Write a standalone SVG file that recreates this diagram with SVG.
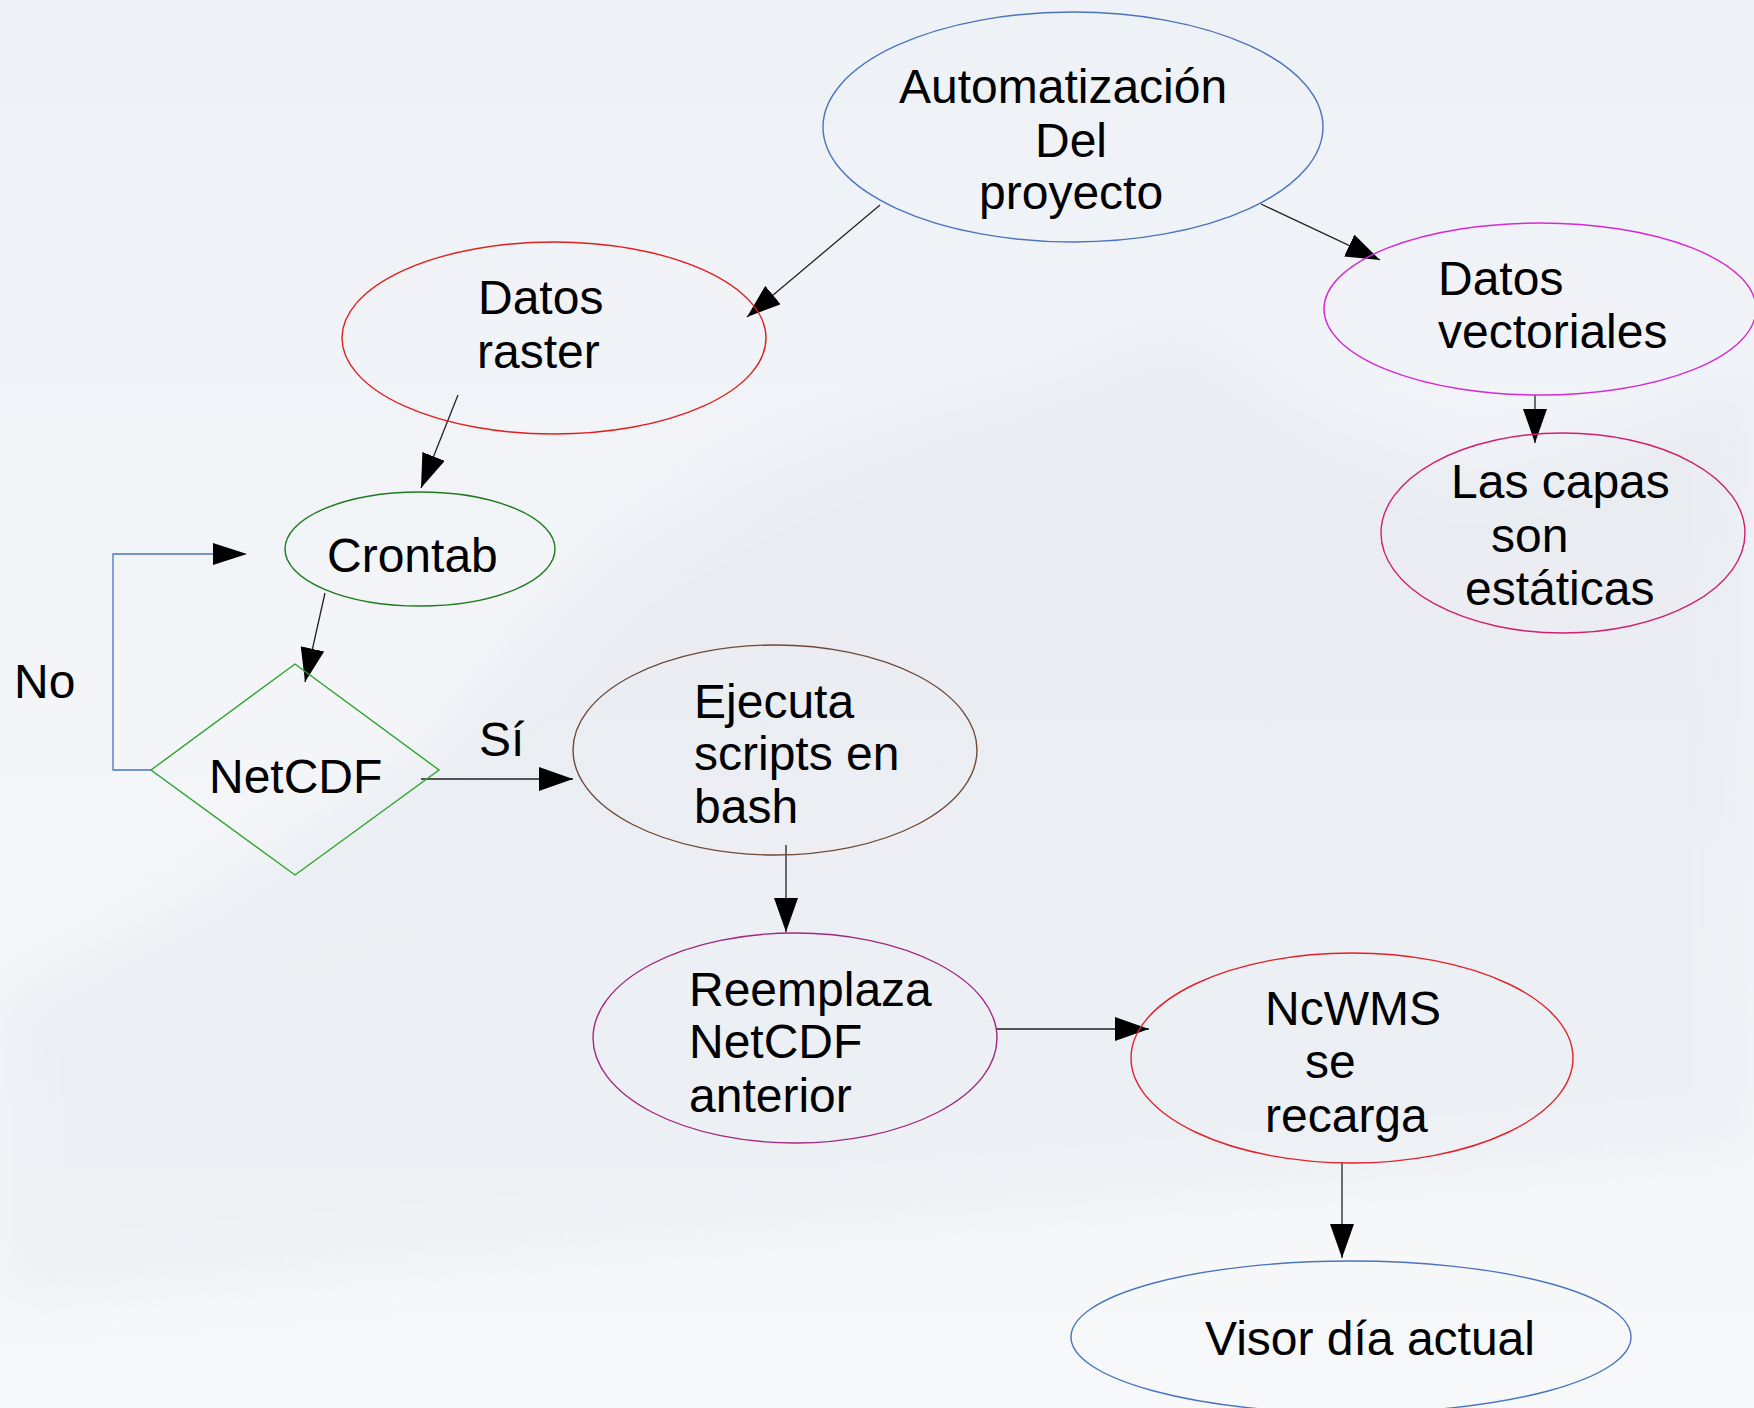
<svg xmlns="http://www.w3.org/2000/svg" width="1754" height="1408" viewBox="0 0 1754 1408">
  <defs>
    <linearGradient id="bg" x1="0" y1="0" x2="0" y2="1">
      <stop offset="0" stop-color="#eef1f6"/>
      <stop offset="0.5" stop-color="#f3f5f8"/>
      <stop offset="1" stop-color="#f6f8fa"/>
    </linearGradient>
    <filter id="soft" x="-10%" y="-10%" width="120%" height="120%">
      <feGaussianBlur stdDeviation="25"/>
    </filter>
    <marker id="arr" markerUnits="userSpaceOnUse" markerWidth="34" markerHeight="24" viewBox="0 0 34 24" refX="34" refY="12" orient="auto">
      <path d="M0,0 L34,12 L0,24 z" fill="#000"/>
    </marker>
    <style>
      .lbl { font-family: "Liberation Sans", Arial, sans-serif; font-size: 48px; fill: #000; }
      .node { fill: none; stroke-width: 1.4; }
      .edge { fill: none; stroke: #222; stroke-width: 1.3; marker-end: url(#arr); }
    </style>
  </defs>

  <rect x="0" y="0" width="1754" height="1408" fill="url(#bg)"/>
  <g id="background" opacity="0.3" filter="url(#soft)">
    <path d="M0,1000 L200,900 L420,760 L600,560 L760,470 L900,420 L1050,380 L1180,330 L1320,420 L1480,470 L1640,420 L1754,380 L1754,1150 L0,1250 z" fill="#d8dde5"/>
    <path d="M0,1100 L240,1000 L460,900 L700,800 L900,760 L1100,800 L1300,880 L1500,860 L1754,800 L1754,1150 L0,1300 z" fill="#dde1e8"/>
  </g>

  <g id="connectors">
    <line class="edge" x1="880" y1="205" x2="747" y2="317"/>
    <line class="edge" x1="1261" y1="204" x2="1380" y2="260"/>
    <line class="edge" x1="458" y1="395" x2="421" y2="488"/>
    <line class="edge" x1="1535" y1="395" x2="1535" y2="443"/>
    <line class="edge" x1="325" y1="593" x2="305" y2="682"/>
    <path d="M151,770 L113,770 L113,554 L213,554" fill="none" stroke="#4a74bd" stroke-width="1.3"/>
    <path d="M213,543 L247,554 L213,565 z" fill="#000"/>
    <line class="edge" x1="421" y1="779" x2="573" y2="779"/>
    <line class="edge" x1="786" y1="845" x2="786" y2="932"/>
    <line class="edge" x1="996" y1="1029" x2="1149" y2="1029"/>
    <line class="edge" x1="1342" y1="1163" x2="1342" y2="1258"/>
    <text class="lbl" x="14" y="698">No</text>
    <text class="lbl" x="479" y="756">Sí</text>
  </g>

  <g id="automatizacion">
    <ellipse class="node" cx="1073" cy="127" rx="250" ry="115" stroke="#4a74bd"/>
    <text class="lbl" x="899" y="103">Automatización</text>
    <text class="lbl" x="1035" y="157">Del</text>
    <text class="lbl" x="979" y="209">proyecto</text>
  </g>

  <g id="datos-raster">
    <ellipse class="node" cx="554" cy="338" rx="212" ry="96" stroke="#e0201c"/>
    <text class="lbl" x="478" y="314">Datos</text>
    <text class="lbl" x="477" y="368">raster</text>
  </g>

  <g id="datos-vectoriales">
    <ellipse class="node" cx="1540" cy="309" rx="216" ry="86" stroke="#d42ad4"/>
    <text class="lbl" x="1438" y="295">Datos</text>
    <text class="lbl" x="1438" y="348">vectoriales</text>
  </g>

  <g id="capas-estaticas">
    <ellipse class="node" cx="1563" cy="533" rx="182" ry="100" stroke="#d0206e"/>
    <text class="lbl" x="1451" y="498">Las capas</text>
    <text class="lbl" x="1491" y="552">son</text>
    <text class="lbl" x="1465" y="605">estáticas</text>
  </g>

  <g id="crontab">
    <ellipse class="node" cx="420" cy="549" rx="135" ry="57" stroke="#1f7a1f"/>
    <text class="lbl" x="327" y="572">Crontab</text>
  </g>

  <g id="netcdf">
    <polygon class="node" points="295,664 439,770 295,875 151,770" stroke="#2aa52a"/>
    <text class="lbl" x="209" y="793">NetCDF</text>
  </g>

  <g id="ejecuta">
    <ellipse class="node" cx="775" cy="750" rx="202" ry="105" stroke="#6e4a36"/>
    <text class="lbl" x="694" y="718">Ejecuta</text>
    <text class="lbl" x="694" y="770">scripts en</text>
    <text class="lbl" x="694" y="823">bash</text>
  </g>

  <g id="reemplaza">
    <ellipse class="node" cx="795" cy="1038" rx="202" ry="105" stroke="#a0287e"/>
    <text class="lbl" x="689" y="1006">Reemplaza</text>
    <text class="lbl" x="689" y="1058">NetCDF</text>
    <text class="lbl" x="689" y="1112">anterior</text>
  </g>

  <g id="ncwms">
    <ellipse class="node" cx="1352" cy="1058" rx="221" ry="105" stroke="#e0202a"/>
    <text class="lbl" x="1265" y="1025">NcWMS</text>
    <text class="lbl" x="1305" y="1078">se</text>
    <text class="lbl" x="1265" y="1132">recarga</text>
  </g>

  <g id="visor">
    <ellipse class="node" cx="1351" cy="1337" rx="280" ry="76" stroke="#4a74bd"/>
    <text class="lbl" x="1205" y="1355">Visor día actual</text>
  </g>
</svg>
